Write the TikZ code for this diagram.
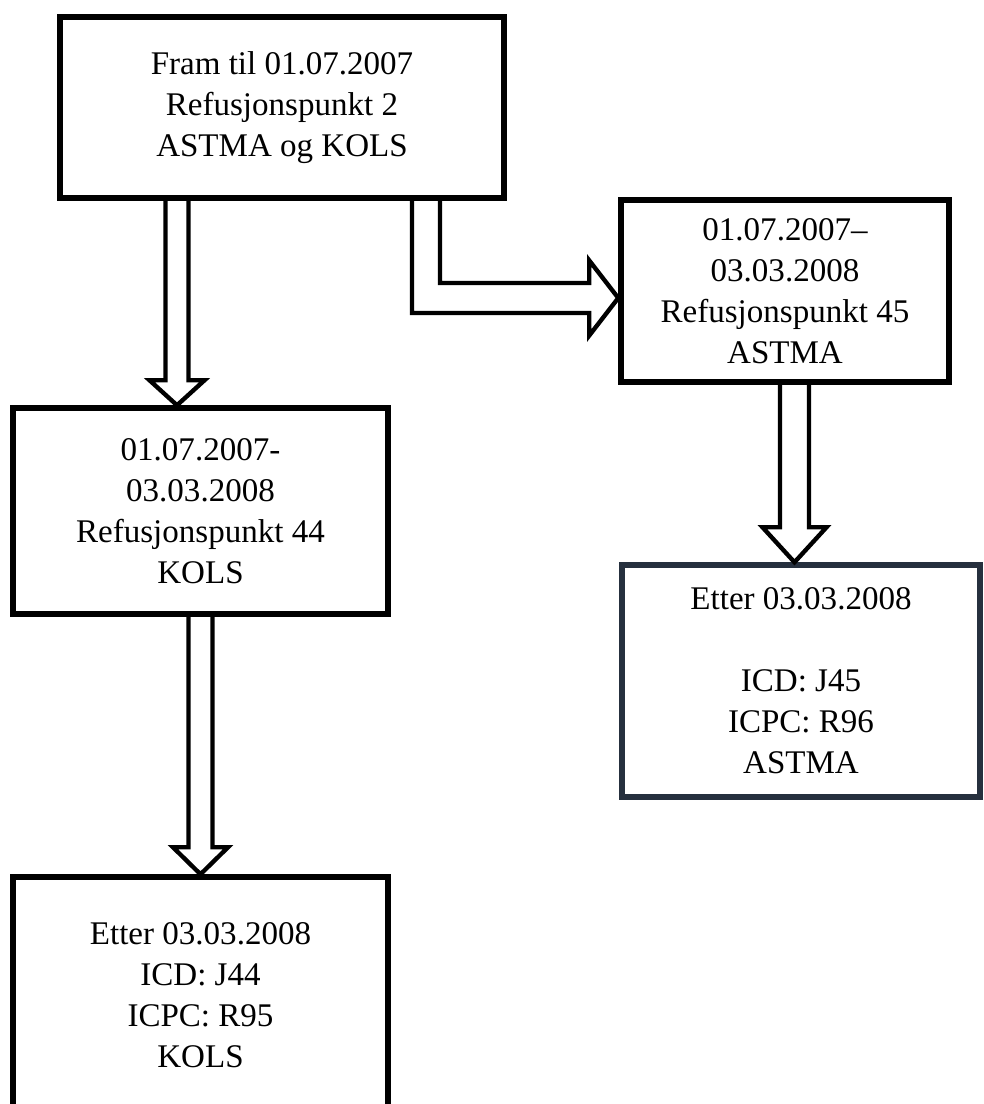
\documentclass[tikz,border=0pt]{standalone}
\usepackage{fontspec}
\setmainfont{Liberation Serif}
\usetikzlibrary{calc}
\definecolor{boxslate}{RGB}{38, 48, 62}
\tikzset{
  stagebox/.style={draw, line width=3.9pt, align=center, inner sep=0pt, font={\fontsize{23.5}{29.2}\selectfont}},
  hollowarrow/.style={line width=3.1pt, line join=miter, miter limit=4}
}

\begin{document}
\begin{tikzpicture}
  \clip (0,0) rectangle (24.6,-27.6);

  % Refusjon stages
  \node[stagebox, minimum width=11.1cm, minimum height=4.525cm] (fram) at (7.05,-2.6875) {Fram til 01.07.2007\\Refusjonspunkt 2\\ASTMA og KOLS};
  \node[stagebox, minimum width=8.2cm, minimum height=4.55cm] (ref45) at (19.625,-7.275) {01.07.2007–\\03.03.2008\\Refusjonspunkt 45\\ASTMA};
  \node[stagebox, minimum width=9.375cm, minimum height=5.15cm] (ref44) at (5.0125,-12.775) {01.07.2007-\\03.03.2008\\Refusjonspunkt 44\\KOLS};
  \node[stagebox, draw=boxslate, minimum width=8.95cm, minimum height=5.8cm] (etter45) at (20.025,-17.025) {Etter 03.03.2008\\[29.2pt]ICD: J45\\ICPC: R96\\ASTMA};
  \node[stagebox, minimum width=9.375cm, minimum height=5.9cm] (etter44) at (5.0125,-24.875) {Etter 03.03.2008\\ICD: J44\\ICPC: R95\\KOLS};

  % Block arrows
  \coordinate (a1) at ($(fram.south)+(-2.625,0)$);
  \coordinate (b1) at (a1 |- ref44.north);
  \draw[hollowarrow] ($(a1)+(-0.2875,0)$) -- ($(b1)+(-0.2875,0.625)$) -- ($(b1)+(-0.6875,0.625)$) -- (b1)
    -- ($(b1)+(0.6875,0.625)$) -- ($(b1)+(0.2875,0.625)$) -- ($(a1)+(0.2875,0)$);

  \coordinate (e1) at ($(fram.south)+(3.25,0)$);
  \coordinate (e2) at ($(fram.south)+(3.95,0)$);
  \coordinate (etip) at ($(ref45.west)+(0,-0.175)$);
  \draw[hollowarrow] (e1) -- ($(e1 |- etip)+(0,-0.375)$) -- ($(etip)+(-0.725,-0.375)$) -- ($(etip)+(-0.725,-0.9375)$) -- (etip)
    -- ($(etip)+(-0.725,0.9375)$) -- ($(etip)+(-0.725,0.375)$) -- ($(e2 |- etip)+(0,0.375)$) -- (e2);

  \coordinate (a3) at ($(ref45.south)+(0.2375,0)$);
  \coordinate (b3) at (a3 |- etter45.north);
  \draw[hollowarrow] ($(a3)+(-0.3625,0)$) -- ($(b3)+(-0.3625,0.875)$) -- ($(b3)+(-0.8,0.875)$) -- (b3)
    -- ($(b3)+(0.8,0.875)$) -- ($(b3)+(0.3625,0.875)$) -- ($(a3)+(0.3625,0)$);

  \coordinate (a4) at (ref44.south);
  \coordinate (b4) at (a4 |- etter44.north);
  \draw[hollowarrow] ($(a4)+(-0.3,0)$) -- ($(b4)+(-0.3,0.675)$) -- ($(b4)+(-0.6875,0.675)$) -- (b4)
    -- ($(b4)+(0.6875,0.675)$) -- ($(b4)+(0.3,0.675)$) -- ($(a4)+(0.3,0)$);
\end{tikzpicture}
\end{document}
